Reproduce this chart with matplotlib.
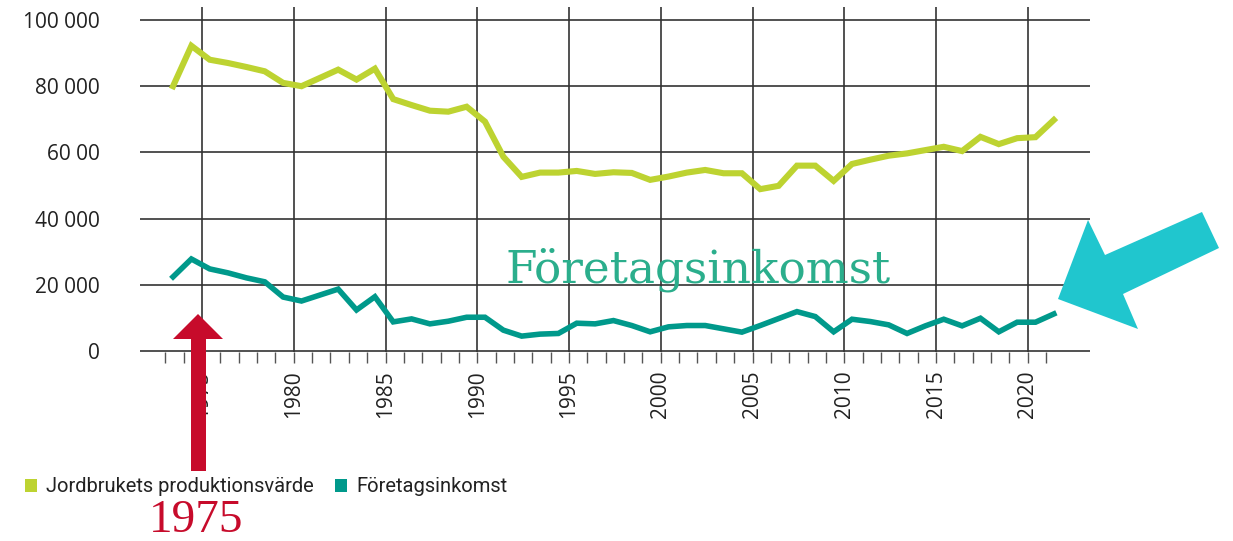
import matplotlib
matplotlib.use("Agg")
import matplotlib.pyplot as plt
from matplotlib.patches import Patch, Polygon
from matplotlib.ticker import FixedLocator, FuncFormatter

years = list(range(1973, 2022))
produktionsvarde = [80000, 92200, 88000, 87000, 85800, 84500, 81000, 80000, 82500, 85000,
                    82000, 85300, 76100, 74300, 72600, 72300, 73800, 69300, 58700, 52600,
                    53900, 53900, 54400, 53500, 54000, 53800, 51700, 52700, 53900, 54700,
                    53700, 53700, 48900, 49900, 56000, 56000, 51400, 56500, 57800, 59000,
                    59700, 60700, 61700, 60400, 64700, 62500, 64300, 64600, 69800]
foretagsinkomst = [22400, 27800, 24800, 23600, 22100, 20900, 16300, 15100, 16900, 18700,
                   12400, 16400, 8800, 9700, 8200, 9000, 10200, 10200, 6300, 4500,
                   5100, 5300, 8400, 8200, 9200, 7700, 5800, 7300, 7700, 7700,
                   6700, 5700, 7700, 9800, 11900, 10400, 5800, 9600, 8900, 7900,
                   5300, 7600, 9600, 7600, 9900, 5800, 8700, 8700, 11200]
ytick_values = [0, 20000, 40000, 60000, 80000, 100000]
ytick_labels = ["0", "20 000", "40 000", "60 00", "80 000", "100 000"]
xtick_labels = [1975, 1980, 1985, 1990, 1995, 2000, 2005, 2010, 2015, 2020]
series_names = ["Jordbrukets produktionsvärde", "Företagsinkomst"]

GREEN = "#BDD331"
TEAL = "#00998B"

W, H = 1233, 541
fig = plt.figure(figsize=(W / 100, H / 100), dpi=100)

def fx(px):
    return px / W

def fy(py):
    return 1 - py / H

ax = fig.add_axes([fx(140), fy(352), fx(1090) - fx(140), fy(7) - fy(352)])
ax.set_xlim(1971.62, 2023.39)
ax.set_ylim(-300, 103927)

for s in ax.spines.values():
    s.set_visible(False)

# grid
for v in ytick_values:
    ax.axhline(v, color="#333333", lw=1.2, zorder=1)
for yr in xtick_labels:
    ax.axvline(yr, color="#333333", lw=1.2, zorder=1)

off = 0.42
xs = [y + off for y in years]
ax.plot(xs, produktionsvarde, color=GREEN, lw=4.4, solid_joinstyle="miter", zorder=3)
ax.plot(xs, foretagsinkomst, color=TEAL, lw=4.0, solid_joinstyle="miter", zorder=3)

ax.set_yticks(ytick_values)
ax.set_yticklabels(ytick_labels)
ax.tick_params(axis="y", length=0, pad=29, labelsize=15, labelcolor="#222222")
for t in ax.get_yticklabels():
    t.set_fontfamily("Open Sans")

ax.xaxis.set_major_locator(FixedLocator(list(range(1973, 2022))))
ax.xaxis.set_major_formatter(FuncFormatter(lambda v, p: f"{int(round(v))}" if int(round(v)) in xtick_labels else ""))
ax.tick_params(axis="x", length=8, width=1.0, color="#555555", direction="out",
               labelrotation=90, labelsize=15, labelcolor="#222222", pad=5)
for t in ax.get_xticklabels():
    t.set_fontfamily("Open Sans")

# Big annotation
fig.text(fx(698), fy(282), "Företagsinkomst", color="#2BAE8C", fontsize=32.7,
         family="DejaVu Serif", ha="center", va="baseline", zorder=5)

# Red arrow
red_pts = [(fx(191), fy(471)), (fx(191), fy(339)), (fx(173), fy(339)), (fx(198), fy(314)),
           (fx(223), fy(339)), (fx(206), fy(339)), (fx(206), fy(471))]
fig.patches.append(Polygon(red_pts, closed=True, transform=fig.transFigure,
                           facecolor="#C70B2B", edgecolor="none", zorder=10))
fig.text(fx(196), fy(532), "1975", color="#C70B2B", fontsize=34, family="Liberation Serif",
         ha="center", va="baseline", zorder=10)

# Cyan arrow
cy_pts = [(fx(1058), fy(299)), (fx(1088), fy(220)), (fx(1105), fy(255)), (fx(1202), fy(212)),
          (fx(1219), fy(248)), (fx(1123), fy(294)), (fx(1138), fy(329))]
fig.patches.append(Polygon(cy_pts, closed=True, transform=fig.transFigure,
                           facecolor="#20C6CE", edgecolor="none", zorder=10))

handles = [Patch(facecolor=GREEN, edgecolor="none"), Patch(facecolor=TEAL, edgecolor="none")]
leg = fig.legend(handles, series_names, loc="center left", bbox_to_anchor=(fx(17), fy(487)),
                 ncol=2, frameon=False, handlelength=0.6, handleheight=0.6, handletextpad=0.45,
                 columnspacing=1.05, borderaxespad=0, prop={"family": "Roboto", "size": 14.5})
for t in leg.get_texts():
    t.set_color("#222222")

fig.savefig("out.png", dpi=100)
